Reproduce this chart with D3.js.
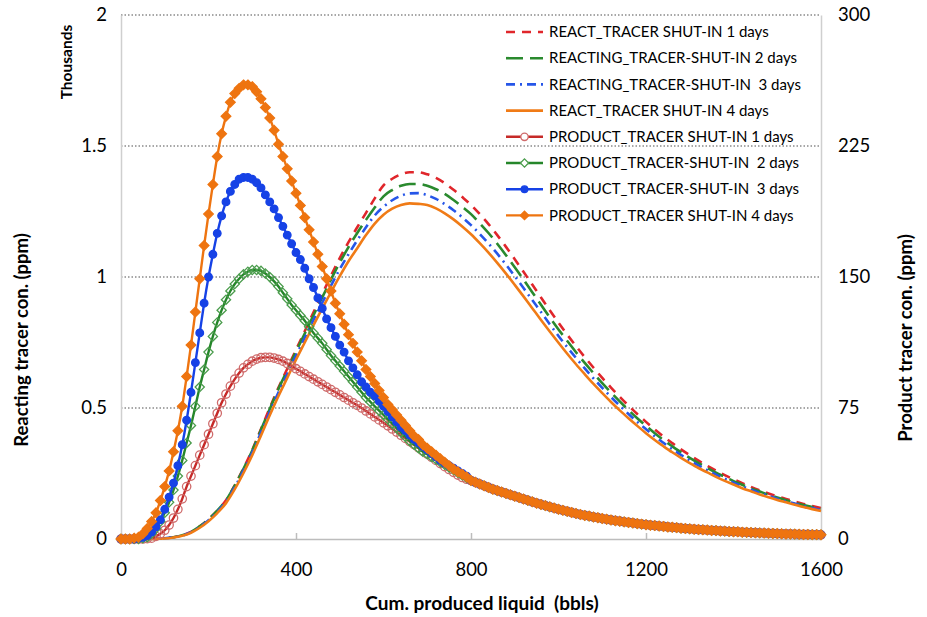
<!DOCTYPE html>
<html>
<head>
<meta charset="utf-8">
<script src="https://cdn.jsdelivr.net/npm/d3@7"></script>
<style>
	body { margin: 0; background: #fff; }
	text { font-family: Lato, "Open Sans", sans-serif; fill: #000; }
</style>
</head>
<body>
<div class="chart"></div>
<script>
// x grid (bbls)
const reactStep = 20;
const productStep = 10;

// Reacting tracer con. (ppm), left axis, every 20 bbls from 0 to 1600
const react1 = [0, 0, 0, 0, 1, 3, 7, 14, 27, 48,
	75, 108, 148, 205, 270, 340, 420, 500, 578, 650,
	722, 793, 865, 935, 1005, 1072, 1133, 1190, 1245, 1300,
	1350, 1375, 1392, 1400, 1400, 1392, 1378, 1358, 1333, 1305,
	1275, 1240, 1202, 1160, 1115, 1068, 1020, 971, 922, 873,
	826, 780, 736, 694, 654, 615, 578, 543, 509, 477,
	447, 418, 391, 366, 342, 320, 299, 279, 261, 244,
	228, 213, 199, 186, 174, 163, 153, 143, 134, 126,
	118];
const react2 = [0, 0, 0, 0, 1, 3, 7, 14, 27, 48,
	75, 108, 148, 204, 268, 338, 417, 496, 573, 644,
	715, 784, 854, 922, 990, 1055, 1114, 1168, 1218, 1265,
	1308, 1332, 1348, 1355, 1355, 1348, 1335, 1317, 1294, 1268,
	1240, 1205, 1168, 1127, 1083, 1037, 990, 942, 894, 846,
	800, 756, 713, 672, 633, 595, 559, 525, 492, 461,
	432, 404, 378, 354, 331, 310, 290, 271, 253, 237,
	221, 207, 193, 181, 169, 158, 148, 139, 130, 122,
	115];
const react3 = [0, 0, 0, 0, 1, 3, 7, 13, 26, 46,
	72, 104, 143, 198, 261, 330, 407, 485, 560, 630,
	700, 768, 836, 902, 967, 1030, 1087, 1140, 1190, 1235,
	1268, 1293, 1310, 1319, 1320, 1312, 1298, 1278, 1255, 1228,
	1198, 1164, 1128, 1089, 1047, 1003, 958, 912, 866, 820,
	775, 732, 691, 651, 613, 577, 542, 509, 477, 447,
	419, 392, 367, 343, 321, 300, 281, 263, 246, 230,
	215, 201, 188, 176, 165, 154, 144, 135, 126, 118,
	111];
const react4 = [0, 0, 0, 0, 1, 2, 6, 12, 24, 43,
	68, 99, 137, 190, 252, 320, 395, 472, 546, 615,
	684, 750, 816, 880, 942, 1003, 1060, 1110, 1160, 1204,
	1238, 1261, 1275, 1281, 1279, 1275, 1262, 1243, 1220, 1193,
	1163, 1129, 1093, 1054, 1013, 970, 926, 881, 836, 792,
	749, 707, 667, 629, 592, 557, 523, 491, 461, 432,
	404, 378, 354, 331, 310, 290, 271, 254, 237, 222,
	208, 194, 182, 170, 159, 149, 140, 131, 122, 114,
	107];

// Product tracer con. (ppm), right axis, every 10 bbls from 0 to 790
const product1 = [0, 0, 0, 0, 0, 0, 0.2, 0.5, 1.5, 3,
	5, 8, 12, 17, 23, 30, 36, 42, 48, 54,
	60, 66, 72, 78, 83, 87.5, 91.5, 95, 98, 100,
	101.8, 103, 103.8, 104, 104, 103.6, 102.8, 101.8, 100.5, 99,
	97.5, 96, 94.5, 93, 91.5, 90, 88.5, 87, 85.5, 84,
	82.5, 81, 79.5, 78, 76.5, 75, 73.3, 71.6, 69.9, 68.2,
	66.5, 64.8, 63, 61.2, 59.4, 57.6, 55.8, 54, 52.2, 50.4,
	48.6, 46.8, 45, 43.2, 41.4, 39.8, 38.2, 36.6, 35.2, 34.2];
const product2 = [0, 0, 0, 0, 0, 0.5, 1, 3, 6, 10,
	15, 21, 28, 36, 45, 55, 65, 76, 87, 97,
	107, 116, 124, 131, 137, 142, 146, 149, 151.5, 153,
	154, 154, 153.5, 152, 150, 147.5, 144.5, 141, 137.5, 134,
	131, 128, 125, 121.5, 118, 115, 112, 108.5, 105, 102,
	99, 96, 93, 90, 87, 84, 81, 78.5, 76, 73.5,
	71, 68.5, 66, 63.5, 61, 58.5, 56, 54, 52, 50,
	48.5, 47, 45.5, 44, 42.5, 41, 39.5, 38, 36.5, 35];
const product3 = [0, 0, 0, 0, 0.5, 1, 2, 4, 7, 11,
	17, 24, 32, 42, 54, 68, 84, 101, 118, 135,
	150, 163, 175, 185, 193, 199, 203, 206, 207, 207,
	206, 204, 201, 197, 193, 189, 184, 179, 174, 169,
	164, 160, 155, 149, 144, 138, 132, 126, 121, 116,
	111, 107, 102, 98, 94, 90, 87, 84, 82, 79,
	76, 73, 70, 67, 64, 62, 59.5, 57, 55, 53,
	51, 49, 47, 45, 43.5, 42, 40.5, 39, 37.5, 36];
const product4 = [0, 0, 0, 0.5, 1, 3, 6, 10, 15, 22,
	30, 39, 50, 62, 76, 93, 111, 130, 149, 168,
	186, 203, 219, 232, 242, 250, 255, 258, 260, 260,
	259, 256, 252, 247, 241, 234, 226, 219, 212, 205,
	198, 191, 184, 177, 170, 163, 156, 149, 142, 135,
	129, 123, 117, 112, 107, 102, 97, 93, 89, 85,
	81, 77, 74, 71, 68, 65, 62, 59, 57, 54,
	52, 50, 48, 46, 44, 42, 40, 38.5, 37, 35.5];
// from 800 to 1600 bbls all four product curves lie on one band
const productTail = [33.5, 32.5, 31.5, 30.5, 29.5, 28.5, 27.7, 26.9, 26.1, 25.3,
	24.5, 23.7, 22.9, 22.1, 21.3, 20.5, 19.8, 19.1, 18.4, 17.7,
	17, 16.4, 15.8, 15.2, 14.6, 14, 13.5, 13.1, 12.6, 12.2,
	11.7, 11.3, 10.9, 10.5, 10.2, 9.8, 9.5, 9.2, 8.8, 8.5,
	8.2, 7.9, 7.7, 7.4, 7.2, 6.9, 6.7, 6.5, 6.2, 6,
	5.8, 5.6, 5.4, 5.3, 5.1, 4.9, 4.8, 4.6, 4.5, 4.3,
	4.2, 4.1, 3.9, 3.8, 3.7, 3.6, 3.5, 3.4, 3.3, 3.2,
	3.1, 3, 2.9, 2.9, 2.8, 2.7, 2.6, 2.6, 2.5, 2.5,
	2.4];

const legendLabels = [
	"REACT_TRACER SHUT-IN 1 days",
	"REACTING_TRACER-SHUT-IN 2 days",
	"REACTING_TRACER-SHUT-IN  3 days",
	"REACT_TRACER SHUT-IN 4 days",
	"PRODUCT_TRACER SHUT-IN 1 days",
	"PRODUCT_TRACER-SHUT-IN  2 days",
	"PRODUCT_TRACER-SHUT-IN  3 days",
	"PRODUCT_TRACER SHUT-IN 4 days"
];
const xTicks = [0, 400, 800, 1200, 1600];
const leftTicks = [0, 500, 1000, 1500, 2000];
const rightTicks = [0, 75, 150, 225, 300];

let createD3 = function () {
	let width = 927, height = 617;
	let left = 121, right = 821, top = 15, bottom = 539;

	let svg = d3.select(".chart")
		.append("svg")
		.attr("width", width)
		.attr("height", height);

	let x = d3.scaleLinear().domain([0, 1600]).range([left, right]);
	let yL = d3.scaleLinear().domain([0, 2000]).range([bottom, top]);
	let yR = d3.scaleLinear().domain([0, 300]).range([bottom, top]);

	// gridlines
	svg.append("g")
		.selectAll("line")
		.data(leftTicks.filter(d => d > 0))
		.enter().append("line")
		.attr("x1", left).attr("x2", right)
		.attr("y1", d => yL(d)).attr("y2", d => yL(d))
		.attr("stroke", "#8a8a8a")
		.attr("stroke-width", 1.3)
		.attr("stroke-dasharray", "1.5,2");

	// axes
	let gx = svg.append("g")
		.attr("transform", `translate(0,${bottom})`)
		.call(d3.axisBottom(x).tickValues(xTicks).tickFormat(d3.format("d"))
			.tickSizeInner(-6).tickSizeOuter(0).tickPadding(24));
	gx.select(".domain").attr("stroke", "#bdbdbd").attr("stroke-width", 1.5);
	gx.selectAll(".tick line").attr("stroke", "#bdbdbd").attr("stroke-width", 1.5);

	let gl = svg.append("g")
		.attr("transform", `translate(${left},0)`)
		.call(d3.axisLeft(yL).tickValues(leftTicks).tickFormat(d => d / 1000).tickSize(0).tickPadding(14));
	gl.select(".domain").attr("stroke", "#cfcfcf").attr("stroke-width", 1.5);

	let gr = svg.append("g")
		.attr("transform", `translate(${right},0)`)
		.call(d3.axisRight(yR).tickValues(rightTicks).tickSize(0).tickPadding(17));
	gr.select(".domain").attr("stroke", "#cfcfcf").attr("stroke-width", 1.5);

	svg.selectAll(".tick text")
		.style("font-family", "Lato, sans-serif")
		.style("font-size", "18.5px")
		.attr("fill", "#000");

	// titles
	svg.append("text")
		.attr("transform", "translate(28,340) rotate(-90)")
		.attr("text-anchor", "middle")
		.style("font-size", "18.5px").style("font-weight", "bold")
		.text("Reacting tracer con. (ppm)");
	svg.append("text")
		.attr("transform", "translate(72,62) rotate(-90)")
		.attr("text-anchor", "middle")
		.style("font-size", "15.5px").style("font-weight", "bold")
		.text("Thousands");
	svg.append("text")
		.attr("transform", "translate(912,338) rotate(-90)")
		.attr("text-anchor", "middle")
		.style("font-size", "18.5px").style("font-weight", "bold")
		.text("Product tracer con. (ppm)");
	svg.append("text")
		.attr("x", 482).attr("y", 610)
		.attr("text-anchor", "middle")
		.style("font-size", "19px").style("font-weight", "bold")
		.style("white-space", "pre")
		.text("Cum. produced liquid  (bbls)");

	let diamond = r => `M0,${-r}L${r},0L0,${r}L${-r},0Z`;

	let series = [
		{data: react1, step: reactStep, y: yL, color: "#e0262b", dash: "9,7", width: 2.6},
		{data: react2, step: reactStep, y: yL, color: "#2a8a2e", dash: "17,7", width: 2.6},
		{data: react3, step: reactStep, y: yL, color: "#2656e8", dash: "9,5,2,5", width: 2.6},
		{data: react4, step: reactStep, y: yL, color: "#f07b16", dash: null, width: 2.6},
		{data: product1.concat(productTail), step: productStep, y: yR, color: "#c62a28", width: 2.4,
			marker: "circle", mfill: "none", mstroke: "#cf6b6b", size: 4.2},
		{data: product2.concat(productTail), step: productStep, y: yR, color: "#25862a", width: 2.4,
			marker: "diamond", mfill: "none", mstroke: "#4a9c4c", size: 4.6},
		{data: product3.concat(productTail), step: productStep, y: yR, color: "#1642e6", width: 2.4,
			marker: "circle", mfill: "#1642e6", mstroke: "#1642e6", size: 3.8},
		{data: product4.concat(productTail), step: productStep, y: yR, color: "#ee7410", width: 2.4,
			marker: "diamond", mfill: "#ee7410", mstroke: "#ee7410", size: 4.8}
	];

	let plot = svg.append("g");

	series.forEach(s => {
		let line = d3.line()
			.x((d, i) => x(i * s.step))
			.y(d => s.y(d))
			.curve(d3.curveMonotoneX);

		plot.append("path")
			.datum(s.data)
			.attr("fill", "none")
			.attr("stroke", s.color)
			.attr("stroke-width", s.width)
			.attr("stroke-dasharray", s.dash)
			.attr("d", line);

		if (s.marker) {
			let marks = plot.append("g")
				.selectAll(".mark")
				.data(s.data)
				.enter();
			if (s.marker == "circle") {
				marks.append("circle")
					.attr("cx", (d, i) => x(i * s.step))
					.attr("cy", d => s.y(d))
					.attr("r", s.size)
					.attr("fill", s.mfill)
					.attr("stroke", s.mstroke)
					.attr("stroke-width", 1.3);
			} else {
				marks.append("path")
					.attr("transform", (d, i) => `translate(${x(i * s.step)},${s.y(d)})`)
					.attr("d", diamond(s.size))
					.attr("fill", s.mfill)
					.attr("stroke", s.mstroke)
					.attr("stroke-width", 1.3);
			}
		}
	});

	// legend
	let legend = svg.append("g");
	series.forEach((s, i) => {
		let ly = 32 + i * 26.2;
		legend.append("line")
			.attr("x1", 506).attr("x2", 543)
			.attr("y1", ly).attr("y2", ly)
			.attr("stroke", s.color)
			.attr("stroke-width", s.width)
			.attr("stroke-dasharray", s.dash);
		if (s.marker == "circle") {
			legend.append("circle")
				.attr("cx", 524.5).attr("cy", ly).attr("r", s.size - 0.5)
				.attr("fill", s.mfill == "none" ? "#fff" : s.mfill)
				.attr("stroke", s.mstroke).attr("stroke-width", 1.3);
		} else if (s.marker) {
			legend.append("path")
				.attr("transform", `translate(524.5,${ly})`)
				.attr("d", diamond(s.size - 0.5))
				.attr("fill", s.mfill == "none" ? "#fff" : s.mfill)
				.attr("stroke", s.mstroke).attr("stroke-width", 1.3);
		}
		legend.append("text")
			.attr("x", 549).attr("y", ly)
			.attr("dy", "0.35em")
			.style("font-size", "15px")
			.style("white-space", "pre")
			.text(legendLabels[i]);
	});
};

createD3();
</script>
</body>
</html>
